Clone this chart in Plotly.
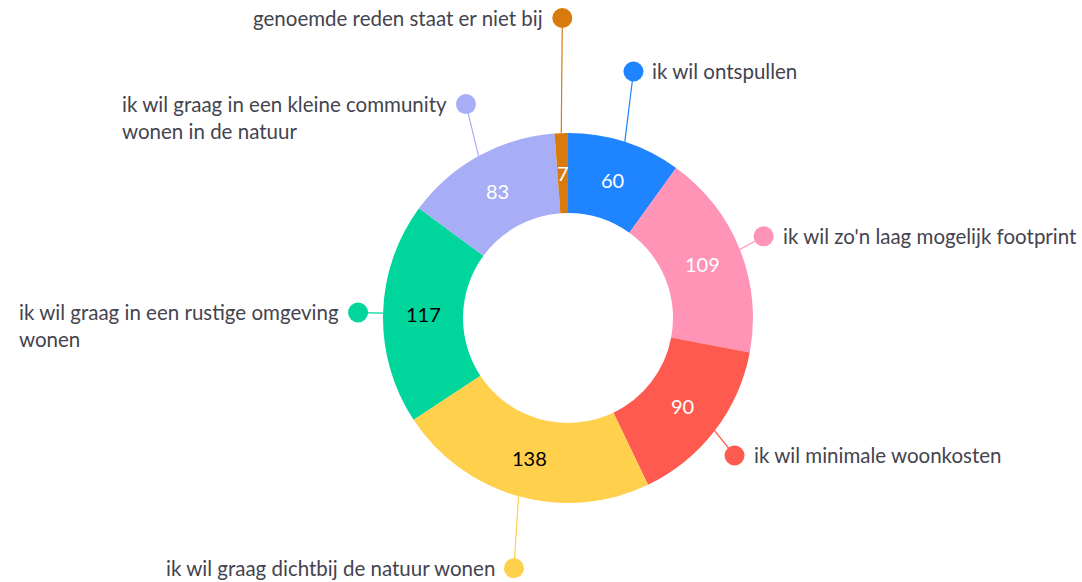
import math
import plotly.graph_objects as go

# ---- data ----
labels = [
    "ik wil ontspullen",
    "ik wil zo'n laag mogelijk footprint",
    "ik wil minimale woonkosten",
    "ik wil graag dichtbij de natuur wonen",
    "ik wil graag in een rustige omgeving\nwonen",
    "ik wil graag in een kleine community\nwonen in de natuur",
    "genoemde reden staat er niet bij",
]
values = [60, 109, 90, 138, 117, 83, 7]
colors = ["#1e84ff", "#ff94b6", "#ff5a4f", "#ffd04b", "#00d69b", "#a7aef6", "#d97b0c"]
value_font_colors = ["white", "white", "white", "black", "black", "white", "white"]

# ---- layout/style parameters (pixel geometry) ----
W, H = 1082, 582
CX, CY = 568, 318          # donut centre (px)
R_OUT, R_IN = 185, 105     # radii (px)
# connector length beyond outer edge and small angle tweak per label
conn_len = [70, 27, 31, 71, 25, 52, 115]
ang_tweak = [-3.0, -0.9, 2.0, -3.3, 0.0, 3.4, 1.0]
label_right = [True, True, True, False, False, False, False]
FONT = "Lato"
LABEL_SIZE = 20.5
TEXT_COL = "#44444e"

total = sum(values)

fig = go.Figure()
fig.add_trace(go.Pie(
    values=values, labels=[l.replace("\n", " ") for l in labels],
    marker=dict(colors=colors, line=dict(width=0)),
    sort=False, direction="clockwise", rotation=0,
    hole=R_IN / R_OUT, textinfo="none", hoverinfo="label+value",
    showlegend=False,
    domain=dict(x=[(CX - R_OUT) / W, (CX + R_OUT) / W],
                y=[(H - CY - R_OUT) / H, (H - CY + R_OUT) / H]),
))

def pt(theta_deg, r):
    t = math.radians(theta_deg)
    return CX + r * math.sin(t), CY - r * math.cos(t)

annotations = []
cum = 0
for i, v in enumerate(values):
    mid = 360.0 * (cum + v / 2) / total
    cum += v
    # value inside ring
    vx, vy = pt(mid, (R_OUT + R_IN) / 2)
    annotations.append(dict(x=vx, y=vy, xref="x", yref="y", text=str(v), showarrow=False,
                            font=dict(family=FONT, size=20, color=value_font_colors[i]),
                            xanchor="center", yanchor="middle"))
    # connector
    sx, sy = pt(mid, R_OUT)
    dx, dy = pt(mid + ang_tweak[i], R_OUT + conn_len[i])
    fig.add_trace(go.Scatter(x=[sx, dx], y=[sy, dy], mode="lines",
                             line=dict(color=colors[i], width=1.2),
                             hoverinfo="skip", showlegend=False))
    fig.add_trace(go.Scatter(x=[dx], y=[dy], mode="markers",
                             marker=dict(color=colors[i], size=20),
                             hoverinfo="skip", showlegend=False))
    right = label_right[i]
    lines = labels[i].split("\n")
    lh = LABEL_SIZE * 1.3
    annotations.append(dict(
        x=dx + (17 if right else -17), y=dy - lh / 2 - 1, xref="x", yref="y",
        text="<br>".join(lines), showarrow=False, align="left",
        xanchor="left" if right else "right", yanchor="top",
        font=dict(family=FONT, size=LABEL_SIZE, color=TEXT_COL)))

fig.update_layout(
    width=W, height=H, autosize=False,
    margin=dict(l=0, r=0, t=0, b=0),
    paper_bgcolor="white", plot_bgcolor="rgba(0,0,0,0)",
    xaxis=dict(range=[0, W], visible=False, domain=[0, 1], fixedrange=True),
    yaxis=dict(range=[H, 0], visible=False, domain=[0, 1], fixedrange=True),
    annotations=annotations,
    showlegend=False,
)

fig.write_html("out.html", config={"displayModeBar": False},
               post_script="document.body.style.margin='0';")
